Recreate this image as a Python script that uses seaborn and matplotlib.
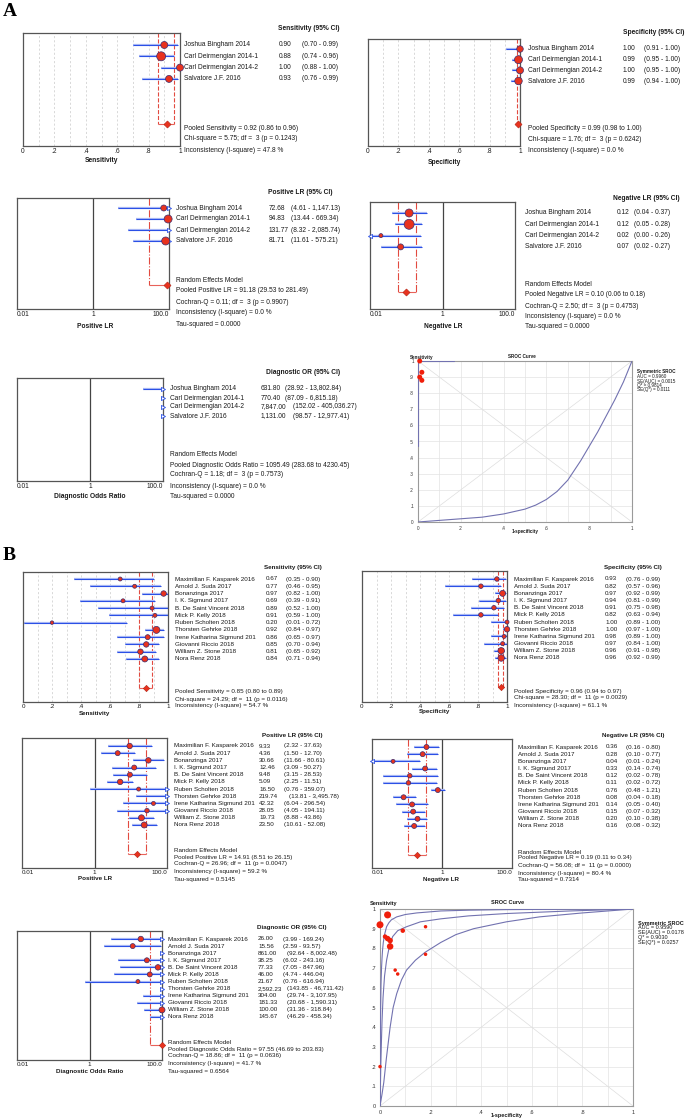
import numpy as np
import matplotlib
matplotlib.use("Agg")
import matplotlib.pyplot as plt
import matplotlib.transforms as mtransforms
from matplotlib import font_manager
from matplotlib.ticker import MultipleLocator, NullLocator
import seaborn as sns

# ---------------- Panel A data ----------------
studies_a = ["Joshua Bingham 2014", "Carl Deirmengian 2014-1",
             "Carl Deirmengian 2014-2", "Salvatore J.F. 2016"]
sens_a = [0.90, 0.88, 1.00, 0.93]
sens_a_lo = [0.70, 0.74, 0.88, 0.76]
sens_a_hi = [0.99, 0.96, 1.00, 0.99]
spec_a = [1.00, 0.99, 1.00, 0.99]
spec_a_lo = [0.91, 0.95, 0.95, 0.94]
spec_a_hi = [1.00, 1.00, 1.00, 1.00]
plr_a = [72.68, 94.83, 131.77, 81.71]
plr_a_lo = [4.61, 13.44, 8.32, 11.61]
plr_a_hi = [1147.13, 669.34, 2085.74, 575.21]
nlr_a = [0.12, 0.12, 0.02, 0.07]
nlr_a_lo = [0.04, 0.05, 0.00, 0.02]
nlr_a_hi = [0.37, 0.28, 0.26, 0.27]
dor_a = [631.80, 770.40, 7847.00, 1131.00]
dor_a_lo = [28.92, 87.09, 152.02, 98.57]
dor_a_hi = [13802.84, 6815.18, 405036.27, 12977.41]

# study weights shown as marker diameter (px)
sens_a_d = [7, 9, 7, 7]
spec_a_d = [6.5, 8, 7, 7.5]
plr_a_d = [6, 8, 7, 8]
nlr_a_d = [8, 10, 4, 6]
dor_a_d = [7, 8, 7, 8]

# pooled estimate, lower, upper
pool_sens_a = [0.92, 0.86, 0.96]
pool_spec_a = [0.99, 0.98, 1.00]
pool_plr_a = [91.18, 29.53, 281.49]
pool_nlr_a = [0.10, 0.06, 0.18]
pool_dor_a = [1095.49, 283.68, 4230.45]

het_sens_a = ["Chi-square = 5.75; df =  3 (p = 0.1243)", "Inconsistency (I-square) = 47.8 %"]
het_spec_a = ["Chi-square = 1.76; df =  3 (p = 0.6242)", "Inconsistency (I-square) = 0.0 %"]
het_plr_a = ["Cochran-Q = 0.11; df =  3 (p = 0.9907)", "Inconsistency (I-square) = 0.0 %", "Tau-squared = 0.0000"]
het_nlr_a = ["Cochran-Q = 2.50; df =  3 (p = 0.4753)", "Inconsistency (I-square) = 0.0 %", "Tau-squared = 0.0000"]
het_dor_a = ["Cochran-Q = 1.18; df =  3 (p = 0.7573)", "Inconsistency (I-square) = 0.0 %", "Tau-squared = 0.0000"]

# SROC A (curve)
sroc_a_fpr = [0.0, 0.1, 0.2, 0.3, 0.4, 0.5, 0.55, 0.6, 0.65, 0.7, 0.73, 0.76, 0.8, 0.84, 0.88, 0.92, 0.96, 1.0]
sroc_a_tpr = [0.0, 0.01, 0.02, 0.03, 0.05, 0.08, 0.105, 0.14, 0.19, 0.26, 0.32, 0.38, 0.47, 0.56, 0.66, 0.76, 0.87, 1.0]
sroc_a_edge_fpr = [0.17, 0.0, 0.0]
sroc_a_edge_tpr = [1.0, 1.0, 0.47]
sroc_a_d = [5, 5, 5, 5]
sroc_a_legend = ["Symmetric SROC", "AUC = 0.9960", "SE(AUC) = 0.0015", "Q* = 0.9814", "SE(Q*) = 0.0111"]

# ---------------- Panel B data ----------------
studies_b = ["Maximilian F. Kasparek 2016", "Arnold J. Suda 2017", "Bonanzinga 2017",
             "I. K. Sigmund 2017", "B. De Saint Vincent 2018", "Mick P. Kelly 2018",
             "Ruben Scholten 2018", "Thorsten Gehrke 2018", "Irene Katharina Sigmund 201",
             "Giovanni Riccio 2018", "William Z. Stone 2018", "Nora Renz 2018"]
sens_b = [0.67, 0.77, 0.97, 0.69, 0.89, 0.91, 0.20, 0.92, 0.86, 0.85, 0.81, 0.84]
sens_b_lo = [0.35, 0.46, 0.82, 0.39, 0.52, 0.59, 0.01, 0.84, 0.65, 0.70, 0.65, 0.71]
sens_b_hi = [0.90, 0.95, 1.00, 0.91, 1.00, 1.00, 0.72, 0.97, 0.97, 0.94, 0.92, 0.94]
spec_b = [0.93, 0.82, 0.97, 0.94, 0.91, 0.82, 1.00, 1.00, 0.98, 0.97, 0.96, 0.96]
spec_b_lo = [0.76, 0.57, 0.92, 0.81, 0.75, 0.63, 0.89, 0.97, 0.89, 0.84, 0.91, 0.92]
spec_b_hi = [0.99, 0.96, 0.99, 0.99, 0.98, 0.94, 1.00, 1.00, 1.00, 1.00, 0.98, 0.99]
plr_b = [9.33, 4.36, 30.66, 12.46, 9.48, 5.09, 16.50, 219.74, 42.32, 28.05, 19.73, 23.50]
plr_b_lo = [2.32, 1.50, 11.66, 3.09, 3.15, 2.25, 0.76, 13.81, 6.04, 4.05, 8.88, 10.61]
plr_b_hi = [37.63, 12.70, 80.61, 50.27, 28.53, 11.51, 359.07, 3495.78, 296.54, 194.11, 43.86, 52.08]
nlr_b = [0.36, 0.28, 0.04, 0.33, 0.12, 0.11, 0.76, 0.08, 0.14, 0.15, 0.20, 0.16]
nlr_b_lo = [0.16, 0.10, 0.01, 0.14, 0.02, 0.02, 0.48, 0.04, 0.05, 0.07, 0.10, 0.08]
nlr_b_hi = [0.80, 0.77, 0.24, 0.74, 0.78, 0.72, 1.21, 0.18, 0.40, 0.32, 0.38, 0.32]
dor_b = [26.00, 15.56, 861.00, 38.25, 77.33, 46.00, 21.67, 2592.23, 304.00, 181.33, 100.00, 145.67]
dor_b_lo = [3.99, 2.59, 92.64, 6.02, 7.05, 4.74, 0.76, 143.85, 29.74, 20.68, 31.36, 46.29]
dor_b_hi = [169.24, 93.57, 8002.48, 243.16, 847.96, 446.04, 616.94, 46711.42, 3107.95, 1590.31, 318.84, 458.34]

sens_b_d = [4, 4, 5.5, 4, 4, 4, 3.5, 7, 5, 5.5, 5.5, 6]
spec_b_d = [4.5, 4.5, 6, 4.5, 4.5, 4.5, 4, 5.5, 4, 4, 6.5, 6.5]
plr_b_d = [5.5, 5, 5.5, 5, 5, 5.5, 4, 5, 4, 4.5, 6, 6]
nlr_b_d = [5, 5, 4, 5, 4.5, 4.5, 5, 5, 5, 5, 5, 5]
dor_b_d = [5.5, 5, 5, 5, 5.5, 5, 4, 5, 5, 5, 6, 5]

pool_sens_b = [0.85, 0.80, 0.89]
pool_spec_b = [0.96, 0.94, 0.97]
pool_plr_b = [14.91, 8.51, 26.15]
pool_nlr_b = [0.19, 0.11, 0.34]
pool_dor_b = [97.55, 46.69, 203.83]

het_sens_b = ["Chi-square = 24.29; df =  11 (p = 0.0116)", "Inconsistency (I-square) = 54.7 %"]
het_spec_b = ["Chi-square = 28.30; df =  11 (p = 0.0029)", "Inconsistency (I-square) = 61.1 %"]
het_plr_b = ["Cochran-Q = 26.96; df =  11 (p = 0.0047)", "Inconsistency (I-square) = 59.2 %", "Tau-squared = 0.5145"]
het_nlr_b = ["Cochran-Q = 56.08; df =  11 (p = 0.0000)", "Inconsistency (I-square) = 80.4 %", "Tau-squared = 0.7314"]
het_dor_b = ["Cochran-Q = 18.86; df =  11 (p = 0.0636)", "Inconsistency (I-square) = 41.7 %", "Tau-squared = 0.6564"]

# SROC B curves
sroc_b_up_fpr = [0.0, 0.002, 0.004, 0.006, 0.008, 0.01, 0.013, 0.018, 0.026, 0.035, 0.045, 0.066,
                 0.1, 0.145, 0.24, 0.35, 0.5, 0.75, 1.0]
sroc_b_up_tpr = [0.0, 0.45, 0.62, 0.7, 0.75, 0.79, 0.83, 0.87, 0.91, 0.93, 0.945, 0.96,
                 0.972, 0.98, 0.99, 0.994, 0.997, 0.999, 1.0]
sroc_b_mid_fpr = [0.0, 0.003, 0.005, 0.008, 0.012, 0.018, 0.026, 0.037, 0.05, 0.07, 0.105,
                  0.16, 0.24, 0.35, 0.5, 0.75, 1.0]
sroc_b_mid_tpr = [0.0, 0.2, 0.3, 0.43, 0.55, 0.66, 0.74, 0.81, 0.86, 0.89, 0.91,
                  0.935, 0.95, 0.965, 0.977, 0.99, 1.0]
sroc_b_low_fpr = [0.0, 0.008, 0.015, 0.025, 0.04, 0.052, 0.066, 0.085, 0.105, 0.14, 0.178,
                  0.24, 0.3, 0.37, 0.5, 0.63, 0.8, 1.0]
sroc_b_low_tpr = [0.0, 0.06, 0.12, 0.24, 0.4, 0.5, 0.57, 0.64, 0.69, 0.74, 0.78,
                  0.83, 0.87, 0.9, 0.935, 0.96, 0.98, 1.0]
sroc_b_d = [3.5, 3.5, 7, 3.5, 4.5, 3.5, 3.5, 7, 4.5, 5.5, 6.5, 5.5]
sroc_b_legend = ["Symmetric SROC", "AUC = 0.9590", "SE(AUC) = 0.0178", "Q* = 0.9030", "SE(Q*) = 0.0257"]

# ---------------- style ----------------
W, H = 685, 1119
sns.set_style("white")
avail = {f.name for f in font_manager.fontManager.ttflist}
if "Liberation Sans Narrow" in avail:
    fam_a, fs_a = "Liberation Sans Narrow", 5.6
else:
    fam_a, fs_a = "Liberation Sans", 4.75
plt.rcParams["font.family"] = ["Liberation Sans", "DejaVu Sans"]
fs_b = 4.5
TXT = "#1a1a1a"
RED = "#e8321e"
BLUE = "#2b50e6"

fig = plt.figure(figsize=(W / 100, H / 100), dpi=100)


def px_axes(l, t, r, b):
    return fig.add_axes([l / W, 1 - b / H, (r - l) / W, (b - t) / H])


def ftext(x, y, s, **kw):
    kw.setdefault("color", TXT)
    kw.setdefault("va", "center")
    fig.text(x / W, 1 - y / H, s, **kw)


def forest(box, first, step, est, lo, hi, diam, pooled, kind, names, cols, fs, fam,
           header, stats, xlabel, ci_shift=(99, 0), dmd=5):
    l, t, r, b = box
    ax = px_axes(l, t, r, b)
    est, lo, hi, diam = (np.asarray(v, dtype=float) for v in (est, lo, hi, diam))
    n = len(est)
    rows = np.arange(n)
    prow = n + 3
    ytop = (t - first) / step
    ybot = (b - first) / step
    if kind == "prop":
        xmin, xmax = 0.0, 1.0
        ax.set_xlim(xmin, xmax)
        ax.set_xticks([0, .2, .4, .6, .8, 1], ["0", ".2", ".4", ".6", ".8", "1"])
        ax.xaxis.set_minor_locator(MultipleLocator(0.1))
        ax.grid(axis="x", which="both", ls=(0, (3, 3)), color="#c9c9c9", lw=0.5)
        style = "--"
    else:
        xmin, xmax = 0.01, 100.0
        ax.set_xscale("log")
        ax.set_xlim(xmin, xmax)
        ax.set_xticks([0.01, 1, 100], ["0.01", "1", "100.0"])
        ax.xaxis.set_minor_locator(NullLocator())
        ax.axvline(1, color="#444444", lw=0.9)
        lbl = ax.get_xticklabels()
        lbl[0].set_ha("left")
        lbl[-1].set_ha("right")
        style = "-."
    ax.set_ylim(ybot, ytop)
    ax.set_yticks([])
    ax.tick_params(axis="x", length=0, pad=1.5, labelsize=fs, colors=TXT)
    for lab in ax.get_xticklabels():
        lab.set_fontfamily(fam)
    for sp in ax.spines.values():
        sp.set_color("#555555")
        sp.set_linewidth(0.9)

    # confidence intervals
    lo_c = np.clip(lo, xmin, xmax)
    hi_c = np.clip(hi, xmin, xmax)
    ax.hlines(rows, lo_c, hi_c, color="#a9b8f5", lw=1.6, zorder=2)
    ax.hlines(rows, lo_c, hi_c, color=BLUE, lw=0.75, zorder=2.1)
    if kind == "log":
        up = hi > xmax
        dn = lo <= xmin * 1.001
        ax.plot(np.full(up.sum(), xmax), rows[up], ls="none", marker=">", ms=3,
                mfc="white", mec=BLUE, mew=0.6, clip_on=False, zorder=4)
        ax.plot(np.full(dn.sum(), xmin), rows[dn], ls="none", marker="<", ms=3,
                mfc="white", mec=BLUE, mew=0.6, clip_on=False, zorder=4)

    # pooled bracket
    p_est, p_lo, p_hi = pooled
    for v in (p_lo, p_hi):
        if xmin < v <= xmax:
            ax.vlines(v, ytop, prow, color="#e24a40", lw=0.8, ls=style, zorder=1.5)
    ax.hlines(prow, np.clip(p_lo, xmin, xmax), np.clip(p_hi, xmin, xmax),
              color="#e8625a", lw=0.8, zorder=1.6)
    if xmin <= p_est <= xmax:
        sns.scatterplot(x=[p_est], y=[prow], marker="D", s=(dmd * 0.72) ** 2, color=RED,
                        edgecolor="#b02010", linewidth=0.4, ax=ax, clip_on=False,
                        zorder=5, legend=False)

    # study markers
    show = (est >= xmin) & (est <= xmax)
    sns.scatterplot(x=est[show], y=rows[show], s=(diam[show] * 0.72) ** 2, color=RED,
                    edgecolor="#3b2d6e", linewidth=0.5, ax=ax, clip_on=False,
                    zorder=4, legend=False)

    # table text
    tr = mtransforms.blended_transform_factory(fig.transFigure, ax.transData)
    nx, vx, cx = cols
    fmt = (lambda v: f"{v:.2f}") if kind == "prop" else (lambda v: f"{v:,.2f}")
    kw = dict(transform=tr, va="center", fontsize=fs, color=TXT, fontfamily=fam)
    for i in range(n):
        vs = fmt(est[i])
        ax.text(nx / W, i, names[i], **kw)
        ax.text(vx / W, i, vs, **kw)
        shift = ci_shift[1] if len(vs) > ci_shift[0] else 0
        ax.text((cx + shift) / W, i, f"({fmt(lo[i])} - {fmt(hi[i])})", **kw)

    hx, hy, htxt = header
    ftext(hx, hy, htxt, ha="right", fontsize=fs, fontweight="bold", fontfamily=fam)
    sx, sys_, lines = stats
    for yy, line in zip(sys_, lines):
        ftext(sx, yy, line, ha="left", fontsize=fs, fontfamily=fam)
    lx, ly, ltxt = xlabel
    ftext(lx, ly, ltxt, ha="center", fontsize=fs, fontweight="bold", fontfamily=fam)
    return ax


def sroc(box, curves, px, py, pd_, legend, fs, top_y, title_x, xl_y, leg_x, leg_y0, leg_dy, sens_x):
    l, t, r, b = box
    ax = px_axes(l, t, r, b)
    ax.set_xlim(0, 1)
    ax.set_ylim(0, 1)
    ax.xaxis.set_minor_locator(MultipleLocator(0.1))
    ax.yaxis.set_minor_locator(MultipleLocator(0.1))
    ax.grid(which="both", color="#e3e3e3", lw=0.5)
    ax.plot([0, 1], [0, 1], color="#dedede", lw=0.5, zorder=1)
    ax.plot([0, 1], [1, 0], color="#dedede", lw=0.5, zorder=1)
    for cx, cy in curves:
        sns.lineplot(x=cx, y=cy, sort=False, estimator=None, color="#7272b0", lw=0.8,
                     ax=ax, zorder=3)
    sns.scatterplot(x=px, y=py, s=(np.asarray(pd_) * 0.72) ** 2, color="#f01e0a",
                    edgecolor="none", ax=ax, clip_on=False, zorder=5, legend=False)
    ax.set_xticks([0, .2, .4, .6, .8, 1], ["0", ".2", ".4", ".6", ".8", "1"])
    ax.set_yticks(np.round(np.arange(0, 1.01, 0.1), 1),
                  ["0", ".1", ".2", ".3", ".4", ".5", ".6", ".7", ".8", ".9", "1"])
    ax.tick_params(length=0, pad=3, labelsize=fs, colors="#333333")
    ax.set_xlabel("")
    ax.set_ylabel("")
    for sp in ax.spines.values():
        sp.set_color("#9a9a9a")
        sp.set_linewidth(0.8)
    ftext(sens_x, top_y, "Sensitivity", ha="left", fontsize=fs, fontweight="bold")
    ftext(title_x, top_y, "SROC Curve", ha="center", fontsize=fs, fontweight="bold")
    ftext((l + r) / 2, xl_y, "1-specificity", ha="center", fontsize=fs, fontweight="bold")
    for k, line in enumerate(legend):
        ftext(leg_x, leg_y0 + k * leg_dy, line, ha="left", fontsize=fs,
              fontweight="bold" if k == 0 else "normal")
    return ax


# ---------------- Panel A ----------------
ftext(3, 11, "A", ha="left", fontsize=14, fontweight="bold", fontfamily="Liberation Serif", color="black")

forest((23, 33, 180, 146), 45, 11.3, sens_a, sens_a_lo, sens_a_hi, sens_a_d, pool_sens_a, "prop",
       studies_a, (184, 279, 302), fs_a, fam_a, (340, 29, "Sensitivity (95% CI)"),
       (184, [128, 139, 150], ["Pooled Sensitivity = %.2f (%.2f to %.2f)" % tuple(pool_sens_a)] + het_sens_a),
       (101, 161, "Sensitivity"))

forest((368, 39, 520, 146), 49, 10.67, spec_a, spec_a_lo, spec_a_hi, spec_a_d, pool_spec_a, "prop",
       studies_a, (528, 623, 644), fs_a, fam_a, (684, 33, "Specificity (95% CI)"),
       (528, [129, 140, 151], ["Pooled Specificity = %.2f (%.2f to %.2f)" % tuple(pool_spec_a)] + het_spec_a),
       (444, 163, "Specificity"))

forest((17, 198, 169, 309), 208, 11, plr_a, plr_a_lo, plr_a_hi, plr_a_d, pool_plr_a, "log",
       studies_a, (176, 269, 291), fs_a, fam_a, (333, 192, "Positive LR (95% CI)"),
       (176, [280, 291, 302, 313, 324], ["Random Effects Model",
                                         "Pooled Positive LR = %.2f (%.2f to %.2f)" % tuple(pool_plr_a)] + het_plr_a),
       (95, 326, "Positive LR"))

forest((370, 202, 515, 309), 213, 11.3, nlr_a, nlr_a_lo, nlr_a_hi, nlr_a_d, pool_nlr_a, "log",
       studies_a, (525, 617, 634), fs_a, fam_a, (680, 198, "Negative LR (95% CI)"),
       (525, [284, 295, 306, 316, 326], ["Random Effects Model",
                                         "Pooled Negative LR = %.2f (%.2f to %.2f)" % tuple(pool_nlr_a)] + het_nlr_a),
       (443, 327, "Negative LR"))

forest((17, 378, 163, 481), 389, 9, dor_a, dor_a_lo, dor_a_hi, dor_a_d, pool_dor_a, "log",
       studies_a, (170, 261, 285), fs_a, fam_a, (340, 372, "Diagnostic OR (95% CI)"),
       (170, [454, 465, 475, 486, 496], ["Random Effects Model",
                                         "Pooled Diagnostic Odds Ratio = %.2f (%.2f to %.2f)" % tuple(pool_dor_a)] + het_dor_a),
       (90, 497, "Diagnostic Odds Ratio"), ci_shift=(6, 8))

fpr_a = 1 - np.asarray(spec_a) + 0.008
sroc((418, 361, 632, 522),
     [(sroc_a_fpr, sroc_a_tpr), (sroc_a_edge_fpr, sroc_a_edge_tpr)],
     fpr_a, sens_a, sroc_a_d, sroc_a_legend, 3.3,
     357, 522, 531, 637, 372, 4.5, 410)

# ---------------- Panel B ----------------
ftext(3, 556, "B", ha="left", fontsize=14, fontweight="bold", fontfamily="Liberation Serif", color="black")

forest((23, 572, 168, 702), 579, 7.27, sens_b, sens_b_lo, sens_b_hi, sens_b_d, pool_sens_b, "prop",
       studies_b, (175, 266, 286), fs_b, "Liberation Sans", (322, 568, "Sensitivity (95% CI)"),
       (175, [692, 699, 706], ["Pooled Sensitivity = %.2f (%.2f to %.2f)" % tuple(pool_sens_b)] + het_sens_b),
       (95, 713, "Sensitivity"), dmd=4.5)

forest((362, 571, 507, 702), 579, 7.18, spec_b, spec_b_lo, spec_b_hi, spec_b_d, pool_spec_b, "prop",
       studies_b, (514, 605, 626), fs_b, "Liberation Sans", (662, 568, "Specificity (95% CI)"),
       (514, [691, 698, 705], ["Pooled Specificity = %.2f (%.2f to %.2f)" % tuple(pool_spec_b)] + het_spec_b),
       (435, 712, "Specificity"), dmd=4.5)

forest((22, 738, 167, 868), 746, 7.18, plr_b, plr_b_lo, plr_b_hi, plr_b_d, pool_plr_b, "log",
       studies_b, (174, 259, 284), fs_b, "Liberation Sans", (323, 735, "Positive LR (95% CI)"),
       (174, [850, 857, 864, 872, 879], ["Random Effects Model",
                                         "Pooled Positive LR = %.2f (%.2f to %.2f)" % tuple(pool_plr_b)] + het_plr_b),
       (95, 879, "Positive LR"), ci_shift=(5, 5), dmd=4.5)

forest((372, 739, 512, 868), 747, 7.18, nlr_b, nlr_b_lo, nlr_b_hi, nlr_b_d, pool_nlr_b, "log",
       studies_b, (518, 606, 626), fs_b, "Liberation Sans", (665, 736, "Negative LR (95% CI)"),
       (518, [852, 858, 865, 873, 880], ["Random Effects Model",
                                         "Pooled Negative LR = %.2f (%.2f to %.2f)" % tuple(pool_nlr_b)] + het_nlr_b),
       (441, 880, "Negative LR"), dmd=4.5)

forest((17, 931, 162, 1060), 939, 7.09, dor_b, dor_b_lo, dor_b_hi, dor_b_d, pool_dor_b, "log",
       studies_b, (168, 258, 283), fs_b, "Liberation Sans", (327, 928, "Diagnostic OR (95% CI)"),
       (168, [1042, 1049, 1056, 1064, 1071], ["Random Effects Model",
                                              "Pooled Diagnostic Odds Ratio = %.2f (%.2f to %.2f)" % tuple(pool_dor_b)] + het_dor_b),
       (90, 1072, "Diagnostic Odds Ratio"), ci_shift=(5, 4), dmd=4.5)

fpr_b = 1 - np.asarray(spec_b)
sroc((380, 909, 633, 1106),
     [(sroc_b_up_fpr, sroc_b_up_tpr), (sroc_b_mid_fpr, sroc_b_mid_tpr), (sroc_b_low_fpr, sroc_b_low_tpr)],
     fpr_b, sens_b, sroc_b_d, sroc_b_legend, 4.0,
     903, 508, 1116, 638, 923, 4.9, 370)

fig.savefig("out.png", dpi=100)
